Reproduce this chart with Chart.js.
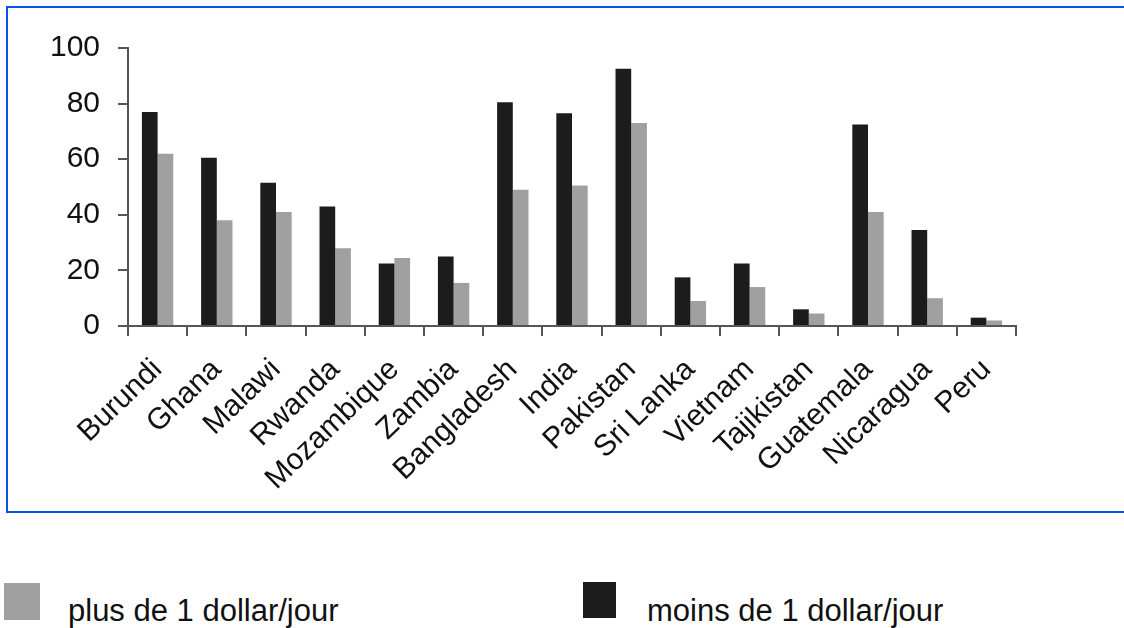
<!DOCTYPE html>
<html>
<head>
<meta charset="utf-8">
<script src="https://cdn.jsdelivr.net/npm/chart.js@4/dist/chart.umd.min.js"></script>
<style>
    body { margin: 0; width: 1124px; height: 628px; background: #fff; overflow: hidden; position: relative; font-family: "Liberation Sans", Arial, sans-serif; }
    #frame { position: absolute; left: 6px; top: 6px; width: 1140px; height: 503px; border: 2px solid #0a52e6; }
    #chartBox { position: absolute; left: 0; top: 0; width: 1124px; height: 520px; }
    .swatch { position: absolute; }
    .legend-text { position: absolute; font-size: 31px; line-height: 31px; color: #111; white-space: nowrap; }
</style>
</head>
<body>
<div id="frame"></div>
<div id="chartBox"><canvas id="povertyChart" width="1124" height="520"></canvas></div>

<div class="swatch" style="left:4px;top:583px;width:36px;height:37px;background:#a0a0a0;"></div>
<div class="legend-text" style="left:68px;top:595px;">plus de 1 dollar/jour</div>
<div class="swatch" style="left:583px;top:582px;width:33px;height:36px;background:#1c1c1c;"></div>
<div class="legend-text" style="left:647px;top:595px;">moins de 1 dollar/jour</div>

<script>
// Data
const countries = ['Burundi', 'Ghana', 'Malawi', 'Rwanda', 'Mozambique', 'Zambia', 'Bangladesh',
    'India', 'Pakistan', 'Sri Lanka', 'Vietnam', 'Tajikistan', 'Guatemala', 'Nicaragua', 'Peru'];
const lessThanOneDollar = [77, 60.5, 51.5, 43, 22.5, 25, 80.5, 76.5, 92.5, 17.5, 22.5, 6, 72.5, 34.5, 3];
const moreThanOneDollar = [62, 38, 41, 28, 24.5, 15.5, 49, 50.5, 73, 9, 14, 4.5, 41, 10, 2];
const yTicks = [0, 20, 40, 60, 80, 100];

const AXIS_COLOR = '#555';
const TEXT_COLOR = '#111';

new Chart(document.getElementById('povertyChart'), {
    type: 'bar',
    data: {
        labels: countries,
        datasets: [
            {
                label: 'moins de 1 dollar/jour',
                data: lessThanOneDollar,
                backgroundColor: '#1c1c1c',
                borderWidth: 0,
                categoryPercentage: 0.53,
                barPercentage: 1.0
            },
            {
                label: 'plus de 1 dollar/jour',
                data: moreThanOneDollar,
                backgroundColor: '#a0a0a0',
                borderWidth: 0,
                categoryPercentage: 0.53,
                barPercentage: 1.0
            }
        ]
    },
    options: {
        responsive: false,
        animation: false,
        devicePixelRatio: 1,
        layout: { padding: { left: 0, top: 48, right: 108, bottom: 0 } },
        plugins: {
            legend: { display: false },
            tooltip: { enabled: false }
        },
        scales: {
            x: {
                grid: {
                    offset: true,
                    drawOnChartArea: false,
                    tickLength: 10,
                    color: AXIS_COLOR,
                    lineWidth: 2
                },
                border: { color: AXIS_COLOR, width: 2 },
                ticks: {
                    color: TEXT_COLOR,
                    font: { family: '"Liberation Sans", Arial', size: 30 },
                    minRotation: 44,
                    maxRotation: 44,
                    padding: 16,
                    autoSkip: false
                },
                afterFit: (scale) => { scale.height = 194; }
            },
            y: {
                min: 0,
                max: 100,
                afterBuildTicks: (scale) => { scale.ticks = yTicks.map(v => ({ value: v })); },
                grid: {
                    drawOnChartArea: false,
                    tickLength: 10,
                    color: AXIS_COLOR,
                    lineWidth: 2
                },
                border: { color: AXIS_COLOR, width: 2 },
                ticks: {
                    color: TEXT_COLOR,
                    font: { family: '"Liberation Sans", Arial', size: 30 },
                    padding: 18
                },
                afterFit: (scale) => { scale.width = 128; }
            }
        }
    }
});
</script>
</body>
</html>
